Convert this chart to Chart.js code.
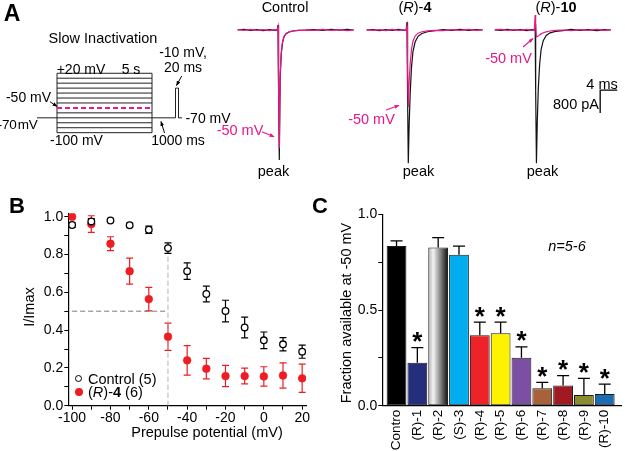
<!DOCTYPE html>
<html><head><meta charset="utf-8">
<script src="https://cdn.jsdelivr.net/npm/chart.js@4.4.0/dist/chart.umd.min.js"></script>
<style>
html,body{margin:0;padding:0;background:#fff;}
#fig{position:relative;width:625px;height:451px;overflow:hidden;background:#fff;font-family:"Liberation Sans",Arial,sans-serif;color:#000;}
#fig canvas{position:absolute;}
.t{position:absolute;white-space:nowrap;line-height:1;font-size:14.5px;}
.c{transform:translate(-50%,-50%);}
.l{transform:translate(0,-50%);}
.r{transform:translate(-100%,-50%);}
.r90{transform:translate(-50%,-50%) rotate(-90deg);}
.mag{color:#E8178A;}
</style></head><body>
<div id="fig">
<canvas id="proto" width="230" height="200" style="left:0;top:0;width:230px;height:200px"></canvas>
<canvas id="traces" width="395" height="200" style="left:230px;top:0;width:395px;height:200px"></canvas>
<canvas id="chartB" width="318" height="251" style="left:0;top:200px;width:318px;height:251px"></canvas>
<canvas id="chartC" width="307" height="251" style="left:318px;top:200px;width:307px;height:251px"></canvas>
<svg id="arrows" width="625" height="451" style="position:absolute;left:0;top:0;pointer-events:none">
<defs>
<marker id="ahK" markerWidth="5" markerHeight="4" refX="4.5" refY="2" orient="auto" markerUnits="userSpaceOnUse"><path d="M0,0 L5,2 L0,4 z" fill="#000"/></marker>
<marker id="ahM" markerWidth="5" markerHeight="4" refX="4.5" refY="2" orient="auto" markerUnits="userSpaceOnUse"><path d="M0,0 L5,2 L0,4 z" fill="#E8178A"/></marker>
</defs>
<line x1="50" y1="101.7" x2="57" y2="106.5" stroke="#000" stroke-width="1" marker-end="url(#ahK)"/>
<line x1="164.5" y1="133" x2="161" y2="121.5" stroke="#000" stroke-width="1" marker-end="url(#ahK)"/>
<line x1="181.7" y1="76" x2="176.5" y2="85.5" stroke="#000" stroke-width="1" marker-end="url(#ahK)"/>
<line x1="262" y1="131.7" x2="274" y2="136.7" stroke="#E8178A" stroke-width="1.2" marker-end="url(#ahM)"/>
<line x1="386" y1="110" x2="399" y2="105.5" stroke="#E8178A" stroke-width="1.2" marker-end="url(#ahM)"/>
<line x1="523" y1="47" x2="533" y2="38.5" stroke="#E8178A" stroke-width="1.2" marker-end="url(#ahM)"/>
</svg>
</div>
<script>
// ---------------- DATA ----------------
// Panel A: protocol (schematic, not to scale)
const prepulseLevelsMv = [-100,-90,-80,-70,-60,-50,-40,-30,-20,-10,0,10,20];
const holdingMv = -70;
const testMv = -10;
const markedMv = -50;
const protocolTimes = [0, 20, 115, 138.5, 141.5, 145]; // hold, prepulse on, prepulse off, test on, test off, end

// Panel A: current traces (time relative to test pulse, ms; current, pA)
const traceMs = [-9.5,-8,-6.5,-5,-3.5,-2,-0.8,-0.2,0,0.12,0.3,0.5,0.75,1.05,1.4,1.9,2.6,3.5,4.8,6.5,8.5,10.5,12.5,14.5,16.3,17.8];
const ctrlPeak = [0,20,-15,10,-20,15,-10,0,170,-2000,-4520,-1700,-850,-450,-240,-130,-70,-35,-15,-5,15,-10,20,-5,25,0];
const ctrlM50  = [10,-15,20,-10,15,-20,10,0,120,-1800,-4100,-1550,-780,-410,-220,-120,-65,-30,-15,-5,-15,20,-10,15,-20,5];
const r4Peak   = [0,15,-20,10,-15,20,-10,0,280,-2100,-4630,-3300,-2200,-1300,-750,-420,-220,-120,-60,-25,10,-15,20,-10,15,0];
const r4M50    = [15,-10,10,-20,20,-15,5,0,150,-1200,-2680,-1800,-1150,-680,-390,-210,-110,-60,-30,-10,-20,15,-15,20,-10,10];
const r10Peak  = [0,-15,20,-10,15,-20,10,0,200,-2100,-4630,-3200,-2000,-1200,-680,-370,-190,-100,-50,-20,20,-10,15,-20,10,0];
const r10M50   = [10,20,-15,15,-10,20,-15,0,520,100,-240,-235,-205,-170,-135,-95,-65,-35,-15,0,-20,15,-15,20,-10,15];
const pulseOnsetMs = [11.3, 41.65, 71.8];
const scaleBarMs = 4;
const scaleBarPa = 800;
const scaleBarAnchor = [87.1, -2090];

// Panel B
const prepulseMv  = [-100,-90,-80,-70,-60,-50,-40,-30,-20,-10,0,10,20];
const controlFrac = [0.956,0.975,0.980,0.955,0.931,0.834,0.712,0.591,0.501,0.414,0.346,0.325,0.286];
const controlErr  = [0.012,0.015,0.010,0.010,0.019,0.028,0.044,0.042,0.057,0.055,0.044,0.035,0.035];
const r4Frac      = [1.000,0.961,0.857,0.712,0.564,0.365,0.240,0.196,0.157,0.157,0.155,0.160,0.145];
const r4Err       = [0.000,0.044,0.037,0.069,0.062,0.072,0.078,0.054,0.056,0.042,0.051,0.067,0.075];
const xTicksB = [-100,-90,-80,-70,-60,-50,-40,-30,-20,-10,0,10,20];
const yTicksB = [0,0.1,0.2,0.3,0.4,0.5,0.6,0.7,0.8,0.9,1.0];
const guideMv = -50, guideFrac = 0.5, guideTop = 0.79, guideStartMv = -100;

// Panel C
const compounds   = ['Contro','(R)-1','(R)-2','(S)-3','(R)-4','(R)-5','(R)-6','(R)-7','(R)-8','(R)-9','(R)-10'];
const fracAt50    = [0.834,0.225,0.826,0.789,0.368,0.378,0.251,0.091,0.105,0.056,0.061];
const fracErr     = [0.027,0.078,0.052,0.045,0.069,0.059,0.056,0.031,0.052,0.087,0.052];
const significant = [false,true,false,false,true,true,true,true,true,true,true];
const yTicksC = [0,0.25,0.5,0.75,1.0];

// ---------------- STYLE ----------------
const MAG = '#E8178A', RED = '#EE1D23';
const barColors = ['#000000','#252E7D',null,'#00AEEF','#EE2229','#FFF200','#7B50A3','#A7623B','#9F1A21','#8B8C2F','#1C6CB2'];
Chart.defaults.font.family = '"Liberation Sans", Arial, sans-serif';
Chart.defaults.font.size = 14;
Chart.defaults.color = '#000';

const hiddenScales = (xmin,xmax,ymin,ymax) => ({
  x:{type:'linear',display:false,min:xmin,max:xmax},
  y:{type:'linear',display:false,min:ymin,max:ymax}
});
const baseOpts = {responsive:false, animation:false, events:[], plugins:{legend:{display:false},tooltip:{enabled:false}}};

// ---------------- PANEL A: protocol ----------------
const line = (pts, extra) => Object.assign({data:pts, showLine:true, pointRadius:0, borderColor:'#222', borderWidth:1, tension:0, order:1}, extra||{});
const protoSets = [];
prepulseLevelsMv.forEach(L => {
  const pts = [{x:protocolTimes[1],y:L},{x:protocolTimes[2],y:L}];
  protoSets.push(L === markedMv ? line(pts,{borderColor:MAG,borderWidth:2,borderDash:[5,3],order:0}) : line(pts));
});
[protocolTimes[1], protocolTimes[2]].forEach(t => protoSets.push(line([{x:t,y:prepulseLevelsMv[0]},{x:t,y:prepulseLevelsMv[prepulseLevelsMv.length-1]}])));
protoSets.push(line([{x:protocolTimes[0],y:holdingMv},{x:protocolTimes[1],y:holdingMv}]));
protoSets.push(line([
  {x:protocolTimes[2],y:holdingMv},{x:protocolTimes[3],y:holdingMv},{x:protocolTimes[3],y:testMv},
  {x:protocolTimes[4],y:testMv},{x:protocolTimes[4],y:holdingMv},{x:protocolTimes[5],y:holdingMv}]));
new Chart(document.getElementById('proto'), {
  type:'scatter', data:{datasets:protoSets},
  options:Object.assign({}, baseOpts, {layout:{padding:0}, scales:hiddenScales(-37,193,-236,168)})
});

// ---------------- PANEL A: traces ----------------
const traceGroups = [[ctrlPeak,ctrlM50],[r4Peak,r4M50],[r10Peak,r10M50]];
const traceSets = [];
traceGroups.forEach((g,k) => {
  const mk = arr => traceMs.map((t,i)=>({x:pulseOnsetMs[k]+t, y:arr[i]}));
  traceSets.push(line(mk(g[1]),{borderColor:MAG,borderWidth:1.2,order:0}));
  traceSets.push(line(mk(g[0]),{borderColor:'#111',borderWidth:1.2,order:1}));
});
const scaleBarPlugin = {id:'scalebar', afterDatasetsDraw(chart){
  const {ctx, scales:{x,y}} = chart;
  const x0 = x.getPixelForValue(scaleBarAnchor[0]), x1 = x.getPixelForValue(scaleBarAnchor[0]+scaleBarMs);
  const y0 = y.getPixelForValue(scaleBarAnchor[1]), y1 = y.getPixelForValue(scaleBarAnchor[1]-scaleBarPa);
  ctx.save(); ctx.strokeStyle='#000'; ctx.lineWidth=1.3; ctx.beginPath();
  ctx.moveTo(x1,y0); ctx.lineTo(x0,y0); ctx.lineTo(x0,y1); ctx.stroke(); ctx.restore();
}};
new Chart(document.getElementById('traces'), {
  type:'scatter', data:{datasets:traceSets},
  options:Object.assign({}, baseOpts, {layout:{padding:0}, scales:hiddenScales(0,92.94,-5913,1043.5)}),
  plugins:[scaleBarPlugin]
});

// ---------------- PANEL B ----------------
const errB = {id:'errB', beforeDatasetsDraw(chart){
  const {ctx, scales:{x,y}} = chart;
  [[controlFrac,controlErr,'#000'],[r4Frac,r4Err,RED]].forEach(([m,e,c]) => {
    ctx.save(); ctx.strokeStyle=c; ctx.lineWidth=1.2; ctx.beginPath();
    prepulseMv.forEach((v,i) => {
      if (!e[i]) return;
      const px = x.getPixelForValue(v), y1 = y.getPixelForValue(m[i]-e[i]), y2 = y.getPixelForValue(m[i]+e[i]);
      ctx.moveTo(px,y1); ctx.lineTo(px,y2);
      ctx.moveTo(px-3.5,y1); ctx.lineTo(px+3.5,y1);
      ctx.moveTo(px-3.5,y2); ctx.lineTo(px+3.5,y2);
    });
    ctx.stroke(); ctx.restore();
  });
}};
const axisCommon = {
  grid:{drawOnChartArea:false, tickLength:4, tickColor:'#000', tickWidth:1},
  border:{color:'#000', width:1.2}
};
new Chart(document.getElementById('chartB'), {
  type:'scatter',
  data:{datasets:[
    {label:'Control (5)', data:prepulseMv.map((v,i)=>({x:v,y:controlFrac[i]})), pointRadius:3.3, pointBackgroundColor:'#fff', pointBorderColor:'#000', pointBorderWidth:1.3, order:0},
    {label:'(R)-4 (6)', data:prepulseMv.map((v,i)=>({x:v,y:r4Frac[i]})), pointRadius:3.9, pointBackgroundColor:RED, pointBorderColor:RED, pointBorderWidth:0.5, order:1},
    line([{x:guideStartMv,y:guideFrac},{x:guideMv,y:guideFrac}],{borderColor:'#7a7a7a',borderDash:[5,3],order:2}),
    line([{x:guideMv,y:0},{x:guideMv,y:guideTop}],{borderColor:'#b0b0b0',borderDash:[5,3],order:2})
  ]},
  options:Object.assign({}, baseOpts, {
    layout:{padding:{top:13.3,right:12,left:0,bottom:0}},
    scales:{
      x:Object.assign({type:'linear',min:-102,max:22,
        afterBuildTicks:s=>{s.ticks = xTicksB.map(v=>({value:v}));},
        afterFit:s=>{s.height=45.3;},
        ticks:{autoSkip:false,maxRotation:0,padding:0,callback:v=>(v%20===0?String(v):'')}}, axisCommon),
      y:Object.assign({type:'linear',min:0,max:1.018,
        afterBuildTicks:s=>{s.ticks = yTicksB.map(v=>({value:v}));},
        afterFit:s=>{s.width=68.3;},
        ticks:{autoSkip:false,padding:1,callback:v=>(Math.round(v*10)%2===0?v.toFixed(1):'')}}, axisCommon)
    }
  }),
  plugins:[errB]
});

// ---------------- PANEL C ----------------
const errC = {id:'errC', afterDatasetsDraw(chart){
  const {ctx, scales:{y}} = chart;
  const meta = chart.getDatasetMeta(0);
  ctx.save(); ctx.strokeStyle='#000'; ctx.fillStyle='#000'; ctx.lineWidth=1.3;
  ctx.font = 'bold 26px "Liberation Sans", Arial, sans-serif';
  ctx.textAlign='center'; ctx.textBaseline='alphabetic';
  meta.data.forEach((bar,i) => {
    const px = bar.x, yb = y.getPixelForValue(fracAt50[i]), yt = y.getPixelForValue(fracAt50[i]+fracErr[i]);
    ctx.beginPath(); ctx.moveTo(px,yb); ctx.lineTo(px,yt); ctx.moveTo(px-6,yt); ctx.lineTo(px+6,yt); ctx.stroke();
    if (significant[i]) ctx.fillText('*', px, yt + 2.5);
  });
  ctx.restore();
}};
new Chart(document.getElementById('chartC'), {
  type:'bar',
  data:{datasets:[{
    data:compounds.map((c,i)=>({x:i,y:fracAt50[i]})),
    backgroundColor:(c)=>{
      const i = c.dataIndex;
      if (i === 2) {
        const ch = c.chart, xs = ch.scales && ch.scales.x;
        if (!xs || !ch.chartArea) return '#999';
        const cx = xs.getPixelForValue(2);
        const g = ch.ctx.createLinearGradient(cx-10,0,cx+10,0);
        g.addColorStop(0,'#a9a9a9'); g.addColorStop(0.25,'#f4f4f4'); g.addColorStop(0.6,'#8a8a8a'); g.addColorStop(1,'#0a0a0a');
        return g;
      }
      return barColors[i];
    },
    borderColor:'#1a1a1a', borderWidth:1, borderSkipped:false,
    barPercentage:0.95, categoryPercentage:1
  }]},
  options:Object.assign({}, baseOpts, {
    layout:{padding:{top:14.3,right:1,left:0,bottom:0}},
    scales:{
      x:{type:'linear',min:-0.683,max:10.807,offset:false,
        afterBuildTicks:s=>{s.ticks = compounds.map((c,i)=>({value:i}));},
        afterFit:s=>{s.height=45.3;},
        grid:{display:false,drawTicks:false,offset:false},
        border:{color:'#000',width:1.2},
        ticks:{autoSkip:false,minRotation:90,maxRotation:90,padding:4,font:{size:13.5},callback:v=>compounds[v]}},
      y:Object.assign({type:'linear',min:0,max:1.0,
        afterBuildTicks:s=>{s.ticks = yTicksC.map(v=>({value:v}));},
        afterFit:s=>{s.width=64.3;},
        ticks:{autoSkip:false,padding:1,callback:v=>(Math.abs(v*2-Math.round(v*2))<1e-6?v.toFixed(1):'')}}, axisCommon)
    }
  }),
  plugins:[errC]
});

// ---------------- TEXT ----------------
const fig = document.getElementById('fig');
const texts = [
  ['A',12,13,'c','font-weight:bold;font-size:23px'],
  ['Slow Inactivation',103,38,'c',''],
  ['+20 mV',81,69,'c','font-size:14px'],
  ['5 s',131,69,'c','font-size:14px'],
  ['-10 mV,',183,52,'c','font-size:14px'],
  ['20 ms',183,67,'c','font-size:14px'],
  ['-50 mV',28.5,97,'c','font-size:14px'],
  ['-70 mV',37.5,125,'r','font-size:13.5px;word-spacing:-2.5px;letter-spacing:-0.2px'],
  ['-100 mV',76.5,140,'c','font-size:14px'],
  ['1000 ms',178,140,'c','font-size:14px'],
  ['-70 mV',208,118,'c','font-size:14px'],
  ['Control',285,6.5,'c',''],
  ['(<i>R</i>)-<b>4</b>',415,6.5,'c',''],
  ['(<i>R</i>)-<b>10</b>',556,6.5,'c',''],
  ['<span class="mag">-50 mV</span>',240,130,'c',''],
  ['<span class="mag">-50 mV</span>',371.5,119,'c',''],
  ['<span class="mag">-50 mV</span>',508.5,57.5,'c',''],
  ['peak',273.5,171,'c',''],
  ['peak',418.5,171,'c',''],
  ['peak',542.5,171,'c',''],
  ['4 ms',602,84,'c',''],
  ['800 pA',576,103.5,'c',''],
  ['B',17,206,'c','font-weight:bold;font-size:22px'],
  ['I/Imax',29,307,'r90',''],
  ['Prepulse potential (mV)',207,432,'c',''],
  ['Control (5)',88,378.5,'l',''],
  ['(<i>R</i>)-<b>4</b> (6)',88,392,'l',''],
  ['C',320,206,'c','font-weight:bold;font-size:22px'],
  ['Fraction available at -50 mV',346,313,'r90',''],
  ['<i>n=5-6</i>',567,246,'c','']
];
texts.forEach(([h,x,y,cls,st]) => {
  const d = document.createElement('div');
  d.className = 't ' + cls; d.innerHTML = h;
  d.style.cssText += `left:${x}px;top:${y}px;${st}`;
  fig.appendChild(d);
});
// legend symbols
const sym1 = document.createElement('div');
sym1.style.cssText = 'position:absolute;left:74.5px;top:374.5px;width:5px;height:5px;border:1.3px solid #000;border-radius:50%;background:#fff';
const sym2 = document.createElement('div');
sym2.style.cssText = 'position:absolute;left:75.1px;top:387.8px;width:7.8px;height:7.8px;border-radius:50%;background:'+RED;
fig.appendChild(sym1); fig.appendChild(sym2);
</script>
</body></html>
